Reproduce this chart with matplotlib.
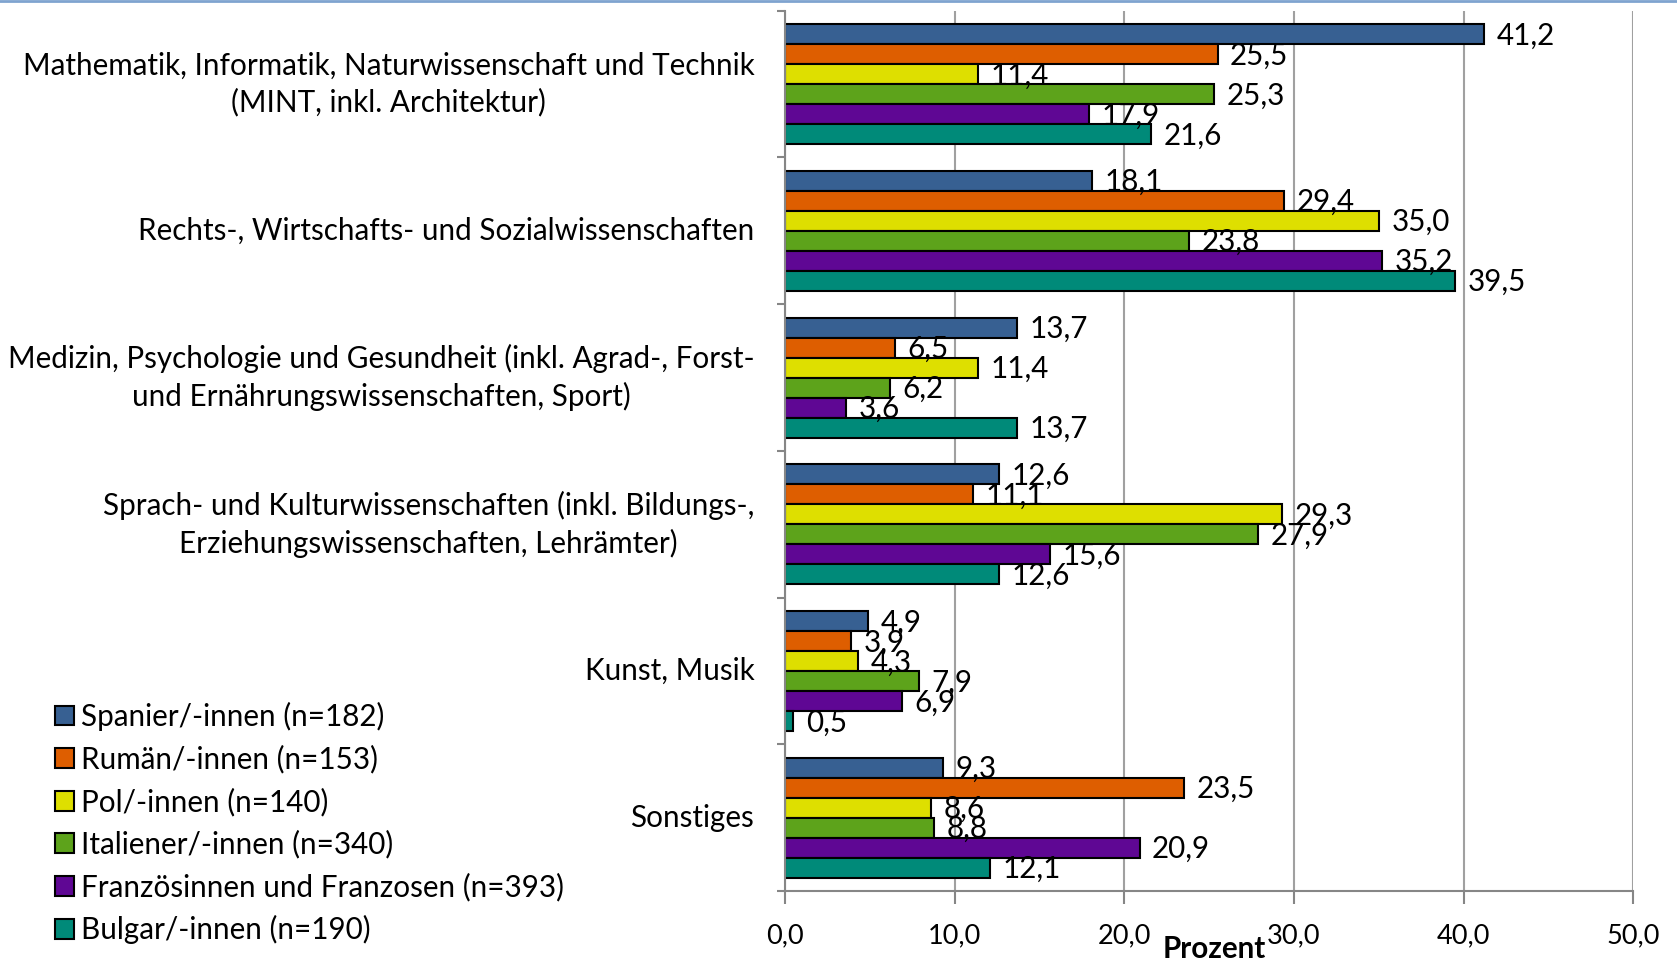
"""Studienfächer nach Herkunftsgruppe: horizontales Balkendiagramm (Prozent)."""

import matplotlib
matplotlib.use("Agg")
import matplotlib.pyplot as plt
import numpy as np
from matplotlib.lines import Line2D
from matplotlib.patches import Patch

# Daten
kategorien = [
    "Mathematik, Informatik, Naturwissenschaft und Technik\n(MINT, inkl. Architektur)",
    "Rechts-, Wirtschafts- und Sozialwissenschaften",
    "Medizin, Psychologie und Gesundheit (inkl. Agrad-, Forst-\nund Ernährungswissenschaften, Sport)",
    "Sprach- und Kulturwissenschaften (inkl. Bildungs-,\nErziehungswissenschaften, Lehrämter)",
    "Kunst, Musik",
    "Sonstiges",
]
gruppen = [
    "Spanier/-innen (n=182)",
    "Rumän/-innen (n=153)",
    "Pol/-innen (n=140)",
    "Italiener/-innen (n=340)",
    "Französinnen und Franzosen (n=393)",
    "Bulgar/-innen (n=190)",
]
spanier = [41.2, 18.1, 13.7, 12.6, 4.9, 9.3]
rumaenen = [25.5, 29.4, 6.5, 11.1, 3.9, 23.5]
polen = [11.4, 35.0, 11.4, 29.3, 4.3, 8.6]
italiener = [25.3, 23.8, 6.2, 27.9, 7.9, 8.8]
franzosen = [17.9, 35.2, 3.6, 15.6, 6.9, 20.9]
bulgaren = [21.6, 39.5, 13.7, 12.6, 0.5, 12.1]
werte = [spanier, rumaenen, polen, italiener, franzosen, bulgaren]

farben = ["#376092", "#DE5E00", "#DEDF00", "#5DA31B", "#5F0794", "#008A79"]
x_ticks = [0, 10, 20, 30, 40, 50]

plt.rcParams["font.family"] = ["Lato", "DejaVu Sans"]
FS = 21.3

fig = plt.figure(figsize=(16.77, 9.61), dpi=100)
ax = fig.add_axes([0.468, 0.0728, 0.506, 0.916])

pos = np.arange(len(kategorien))
hoehe = 0.1363
for i, (serie, farbe) in enumerate(zip(werte, farben)):
    y = pos + (i - 2.5) * hoehe
    bars = ax.barh(y, serie, height=hoehe, color=farbe, edgecolor="black",
                   linewidth=1.5, zorder=3)
    for b, v in zip(bars, serie):
        ax.annotate(f"{v:.1f}".replace(".", ","),
                    (b.get_width(), b.get_y() + b.get_height() / 2),
                    xytext=(9, -1), textcoords="offset points",
                    ha="left", va="center", fontsize=FS, zorder=4)

ax.set_xlim(0, 50)
ax.set_ylim(len(kategorien) - 0.5, -0.5)
ax.set_xticks(x_ticks, [f"{t:.1f}".replace(".", ",") for t in x_ticks])
ax.set_yticks(pos, kategorien, fontsize=FS, multialignment="center",
              linespacing=1.35)
for lbl in ax.get_yticklabels():
    lbl.set_verticalalignment("center")
ax.set_yticks(np.arange(-0.5, len(kategorien)), minor=True)
ax.tick_params(axis="y", which="major", length=0, pad=22)
ax.tick_params(axis="y", which="minor", length=6, width=1.5, color="#868686",
               direction="out")
ax.tick_params(axis="x", length=9, width=1.5, color="#868686", pad=14,
               labelsize=19.5)
ax.grid(axis="x", color="#A0A0A0", linewidth=1.5, zorder=0)
for s in ["top", "right"]:
    ax.spines[s].set_visible(False)
for s in ["left", "bottom"]:
    ax.spines[s].set_color("#868686")
    ax.spines[s].set_linewidth(1.5)
    ax.spines[s].set_zorder(5)

fig.text(0.724, 0.0125, "Prozent", fontsize=FS, fontweight="bold",
         ha="center", va="center")

handles = [Patch(facecolor=f, edgecolor="black", linewidth=1.5) for f in farben]
fig.legend(handles, gruppen, loc="upper left", bbox_to_anchor=(0.0255, 0.282),
           frameon=False, fontsize=FS, handlelength=0.65, handleheight=0.65,
           handletextpad=0.25, labelspacing=0.47, borderaxespad=0)

fig.add_artist(Line2D([0, 1], [0.999, 0.999], transform=fig.transFigure,
                      color="#7FA3CF", linewidth=2))

fig.savefig("out.png", dpi=100)
